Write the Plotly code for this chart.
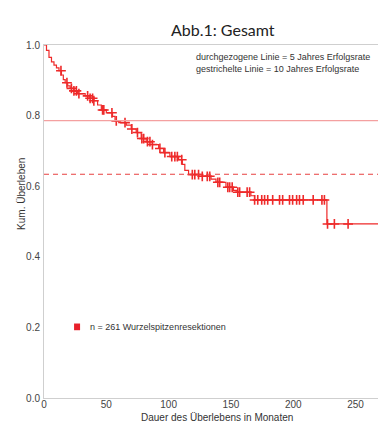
import numpy as np
import plotly.graph_objects as go

# Kaplan-Meier step data (months, cumulative survival after event)
event_times = [0, 2, 4, 6, 8, 10, 12, 14, 15.5, 17, 19, 21, 24, 27, 33, 37, 40, 43, 46, 50,
               55, 57, 60, 66, 70, 74, 78, 82, 87, 92, 96, 101, 108, 111, 113, 116, 127, 134,
               138, 146, 152, 155, 166, 169, 227, 268]
survival = [1.0, 0.985, 0.965, 0.952, 0.943, 0.935, 0.927, 0.915, 0.902, 0.893, 0.884, 0.877,
            0.870, 0.862, 0.856, 0.849, 0.842, 0.830, 0.816, 0.808, 0.798, 0.785, 0.780, 0.773,
            0.762, 0.752, 0.735, 0.726, 0.718, 0.707, 0.695, 0.684, 0.675, 0.662, 0.645, 0.633,
            0.628, 0.620, 0.611, 0.597, 0.588, 0.583, 0.573, 0.561, 0.493, 0.493]

# Censored observation times (months)
censor_times = [13.6, 18.4, 22, 24, 26, 28, 35, 37, 39, 40, 47, 48, 54.5, 58, 65, 70.5, 75,
                 78.5, 80, 83, 85, 87, 93, 97, 102.5, 105, 107, 110.5, 119, 121, 124, 127, 131,
                 133, 139.5, 141, 147.5, 149, 151, 155.5, 157, 163, 165, 169, 171.5, 174.7, 177,
                 179.5, 183.5, 189, 191.5, 197, 199.5, 202.7, 205, 208, 216, 223, 225, 227.5,
                 233, 244]

five_year_rate = 0.786
ten_year_rate = 0.634

x_ticks = [0, 50, 100, 150, 200, 250]
y_ticks = [0.0, 0.2, 0.4, 0.6, 0.8, 1.0]

title_text = "Abb.1: Gesamt"
note_text = "durchgezogene Linie = 5 Jahres Erfolgsrate<br>gestrichelte Linie = 10 Jahres Erfolgsrate"
legend_text = "n = 261 Wurzelspitzenresektionen"
x_title = "Dauer des Überlebens in Monaten"
y_title = "Kum. Überleben"

RED = "#ee2a2a"
ts = np.array(event_times)
sv = np.array(survival)
ct = np.array(censor_times)
censor_surv = sv[np.searchsorted(ts, ct, side="right") - 1]

fig = go.Figure()
fig.add_trace(go.Scatter(x=event_times, y=survival, mode="lines", line_shape="hv",
                         line=dict(color=RED, width=1.2), showlegend=False, cliponaxis=False))
fig.add_trace(go.Scatter(x=ct, y=censor_surv, mode="markers",
                         marker=dict(symbol="cross-thin", size=7, line=dict(width=1.6, color=RED)),
                         showlegend=False))

fig.add_shape(type="line", xref="paper", x0=0, x1=1, yref="y", y0=five_year_rate, y1=five_year_rate,
              line=dict(color="#f4a0a0", width=1.3))
fig.add_shape(type="line", xref="paper", x0=0, x1=1, yref="y", y0=ten_year_rate, y1=ten_year_rate,
              line=dict(color="#e84040", width=1.1, dash="5px,4px"))

# legend square
fig.add_shape(type="rect", xref="paper", yref="paper", x0=0.090, x1=0.108, y0=0.192, y1=0.211,
              fillcolor="#e8202a", line=dict(width=0))

font_a = "Liberation Sans, Arial, sans-serif"
fig.add_annotation(text=legend_text, xref="paper", yref="paper", x=0.132, y=0.201,
                   xanchor="left", yanchor="middle", showarrow=False,
                   font=dict(family=font_a, size=9, color="#333"))
fig.add_annotation(text=note_text, xref="paper", yref="paper", x=0.450, y=0.985,
                   xanchor="left", yanchor="top", showarrow=False, align="left",
                   font=dict(family=font_a, size=9, color="#333"))
fig.add_annotation(text=title_text, xref="paper", yref="paper", x=0.536, y=1.045,
                   xanchor="center", yanchor="middle", showarrow=False,
                   font=dict(family="Lato, sans-serif", size=16, color="#222"))
fig.add_annotation(text=x_title, xref="paper", yref="paper", x=0.518, y=-0.054,
                   xanchor="center", yanchor="middle", showarrow=False,
                   font=dict(family=font_a, size=10, color="#333"))
fig.add_annotation(text=y_title, xref="paper", yref="paper", x=-0.066, y=0.578,
                   xanchor="center", yanchor="middle", showarrow=False, textangle=-90,
                   font=dict(family=font_a, size=10, color="#333"))

fig.update_layout(
    width=378, height=423,
    margin=dict(l=44, r=0, t=45, b=25),
    paper_bgcolor="white", plot_bgcolor="white",
    showlegend=False,
    xaxis=dict(range=[0, 268], tickvals=x_ticks, showgrid=False, zeroline=False,
               showline=True, linecolor="#cfcfcf", linewidth=1, mirror=True,
               ticks="", ticklabelstandoff=-3,
               tickfont=dict(family=font_a, size=10, color="#444")),
    yaxis=dict(range=[0, 1], tickvals=y_ticks, tickformat=".1f", showgrid=False, zeroline=False,
               showline=True, linecolor="#cfcfcf", linewidth=1,
               ticks="", ticklabelstandoff=1, tickfont=dict(family=font_a, size=10, color="#444")),
)

fig.write_html("out.html")
